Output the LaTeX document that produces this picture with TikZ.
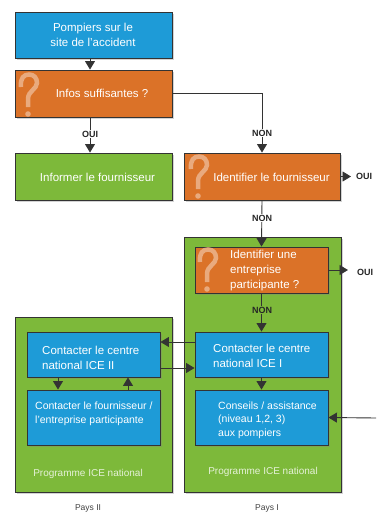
\documentclass[tikz,border=0pt]{standalone}
\usepackage{fontspec}
\setmainfont{Liberation Sans}
\usetikzlibrary{arrows.meta,shadows}
\definecolor{cblue}{HTML}{1E9BD7}
\definecolor{corange}{HTML}{DB7228}
\definecolor{cgreen}{HTML}{7DB93A}
\definecolor{cline}{HTML}{333333}
\colorlet{qmark}{corange!60!white}
\begin{document}
\begin{tikzpicture}[x=1pt,y=-1pt,
  base/.style={draw=cline,line width=0.9pt,inner sep=0pt,drop shadow={opacity=0.35,shadow xshift=1.5pt,shadow yshift=-1.5pt}},
  bluebox/.style={base,fill=cblue},
  orangebox/.style={base,fill=corange},
  greenbox/.style={base,fill=cgreen},
  txt/.style={text=white,inner sep=0pt,font=\fontsize{11.5}{15}\selectfont},
  smalltxt/.style={text=white,inner sep=0pt,font=\fontsize{10.5}{13.5}\selectfont},
  progtxt/.style={text=white!80!cgreen,inner sep=0pt,font=\fontsize{10}{12}\selectfont},
  paystxt/.style={text=black!75,inner sep=0pt,font=\fontsize{8.5}{10}\selectfont},
  lbl/.style={inner sep=1pt,font=\bfseries\fontsize{9}{10}\selectfont,text=black!85},
  conn/.style={draw=cline,line width=0.9pt},
  arr/.style={conn,-{Triangle[width=10pt,length=8.5pt]}},
  qm/.style={draw=qmark,line width=4.5pt}
]
\useasboundingbox (0,0) rectangle (376,514);

% containers
\node[greenbox,minimum width=157pt,minimum height=255pt] (pays1) at (262.5,364.5) {};
\node[greenbox,minimum width=157pt,minimum height=175pt] (pays2) at (93.5,404.5) {};

% boxes
\node[bluebox,minimum width=157pt,minimum height=46pt] (pomp) at (93.5,35) {};
\node[orangebox,minimum width=157pt,minimum height=47pt] (infos) at (93.5,93.5) {};
\node[greenbox,minimum width=157pt,minimum height=47pt] (informer) at (93.5,176.5) {};
\node[orangebox,minimum width=156pt,minimum height=47pt] (ident) at (262,176.5) {};
\node[orangebox,minimum width=133pt,minimum height=46pt] (ident2) at (261.5,270) {};
\node[bluebox,minimum width=133pt,minimum height=45pt] (ice1) at (261.5,354.5) {};
\node[bluebox,minimum width=133pt,minimum height=55pt] (conseils) at (261.5,417.5) {};
\node[bluebox,minimum width=133pt,minimum height=45pt] (ice2) at (93.5,354.5) {};
\node[bluebox,minimum width=133pt,minimum height=55pt] (fourn) at (93.5,417.5) {};

% question marks
\begin{scope}
\clip ([shift={(1,-1)}]infos.south west) rectangle ([shift={(-1,1)}]infos.north east);
\begin{scope}[shift={(19,73)}]
\draw[qm] (2,14) .. controls (1,5) and (5,1.5) .. (10,1.5) .. controls (15,1.5) and (18,5) .. (18,10) .. controls (18,16) and (9,18) .. (9,26) -- (9,34);
\fill[qmark] (9,41) circle (2.8pt);
\end{scope}
\end{scope}
\begin{scope}
\clip ([shift={(1,-1)}]ident.south west) rectangle ([shift={(-1,1)}]ident.north east);
\begin{scope}[shift={(189,155)}]
\draw[qm] (2,14) .. controls (1,5) and (5,1.5) .. (10,1.5) .. controls (15,1.5) and (18,5) .. (18,10) .. controls (18,16) and (9,18) .. (9,26) -- (9,34);
\fill[qmark] (9,41) circle (2.8pt);
\end{scope}
\end{scope}
\begin{scope}
\clip ([shift={(1,-1)}]ident2.south west) rectangle ([shift={(-1,1)}]ident2.north east);
\begin{scope}[shift={(198,248)}]
\draw[qm] (2,14) .. controls (1,5) and (5,1.5) .. (10,1.5) .. controls (15,1.5) and (18,5) .. (18,10) .. controls (18,16) and (9,18) .. (9,26) -- (9,34);
\fill[qmark] (9,41) circle (2.8pt);
\end{scope}
\end{scope}

% texts
\node[txt,align=center] (tpomp) at (93,35) {Pompiers sur le\\site de l'accident};
\node[txt] (tinfos) at (102,93) {Infos suffisantes ?};
\node[txt] (tinformer) at (97.5,177) {Informer le fournisseur};
\node[txt] (tident) at (271.5,177) {Identifier le fournisseur};
\node[txt,align=left,anchor=west,font=\fontsize{11.5}{15}\selectfont] (tident2) at (230,271) {Identifier une\\entreprise\\participante ?};
\node[txt,align=left,anchor=west] (tice1) at (213,356) {Contacter le centre\\national ICE I};
\node[smalltxt,align=left,anchor=west] (tcons) at (218,420) {Conseils / assistance\\(niveau 1,2, 3)\\aux pompiers};
\node[txt,align=left,anchor=west] (tice2) at (42,358) {Contacter le centre\\national ICE II};
\node[smalltxt,align=left,anchor=west] (tfourn) at (35,414) {Contacter le fournisseur /\\l'entreprise participante};
\node[progtxt] (prog2) at (88,474) {Programme ICE national};
\node[progtxt] (prog1) at (263,472) {Programme ICE national};
\node[paystxt] (p2) at (88,508) {Pays II};
\node[paystxt] (p1) at (267,508) {Pays I};

% connectors
\draw[arr] ([xshift=-3.5pt]pomp.south) -- ([xshift=-3.5pt]infos.north);
\draw[arr] ([xshift=-3.5pt]infos.south) -- ([xshift=-3.5pt]informer.north);
\node[lbl,fill=white] (oui1) at (90,134) {OUI};
\draw[arr] (infos.east) -| (ident.north);
\node[lbl,fill=white] (non1) at (262,133) {NON};
\coordinate (o2) at (351,176.5);
\draw[arr] (ident.east) -- (o2);
\node[lbl,anchor=west] (oui2) at (355,176) {OUI};
\draw[arr] (ident.south) -- (ident2.north);
\node[lbl,fill=white] (non2) at (262,218) {NON};
\coordinate (o3) at (348,270);
\draw[arr] (ident2.east) -- (o3);
\node[lbl,anchor=west] (oui3) at (356,272) {OUI};
\draw[arr] (ident2.south) -- (ice1.north);
\node[lbl,fill=cgreen] (non3) at (262,310) {NON};
\draw[arr] (ice1.south) -- (conseils.north);
\draw[arr] ([yshift=12.5pt]ice1.west) -- ([yshift=12.5pt]ice2.east);
\draw[arr] ([yshift=-13.5pt]ice2.east) -- ([yshift=-13.5pt]ice1.west);
\draw[arr] ([xshift=-35.5pt]ice2.south) -- ([xshift=-35.5pt]fourn.north);
\draw[arr] ([xshift=34.5pt]fourn.north) -- ([xshift=34.5pt]ice2.south);
\coordinate (ext) at (376,418);
\draw[arr] (ext) -- (conseils.east);
\end{tikzpicture}
\end{document}
